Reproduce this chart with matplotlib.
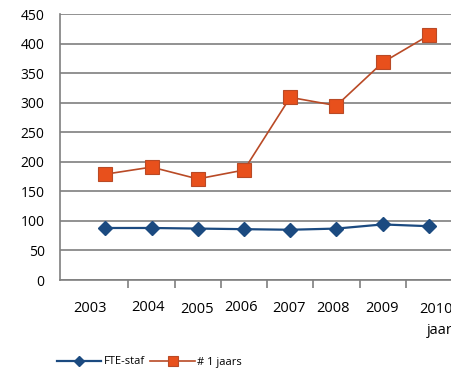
import matplotlib
matplotlib.use("Agg")
import matplotlib.pyplot as plt
import matplotlib.transforms as mtransforms

plt.rcParams['font.family'] = ['Open Sans', 'DejaVu Sans']

# gegevens per jaar
jaren = ["2003", "2004", "2005", "2006", "2007", "2008", "2009", "2010"]
fte_staf = [88, 88, 87, 86, 85, 87, 94, 91]
eerstejaars = [179, 191, 171, 186, 309, 295, 368, 414]

blauw = "#1b4a80"
oranje = "#e8501c"
oranje_rand = "#b94a26"
grijs = "#7f7f7f"

fig = plt.figure(figsize=(4.52, 3.69), dpi=100)
ax = fig.add_axes([60 / 452, 1 - 280 / 369, 392 / 452, 266 / 369])

x = list(range(len(jaren)))
ax.plot(x, fte_staf, color=blauw, linewidth=1.6, marker="D", markersize=7,
        markerfacecolor=blauw, markeredgecolor=blauw, label="FTE-staf", zorder=3)
ax.plot(x, eerstejaars, color=oranje_rand, linewidth=1.2, marker="s", markersize=10,
        markerfacecolor=oranje, markeredgecolor=oranje_rand, markeredgewidth=0.8,
        label="# 1 jaars", zorder=3)

ax.set_xlim(-0.98, 7.5)
ax.set_ylim(0, 450)
ax.set_yticks(range(0, 451, 50))
ax.yaxis.grid(True, color=grijs, linewidth=1.2)
ax.set_axisbelow(True)
ax.tick_params(axis="y", length=0, pad=11, labelsize=10)

# jaartallen onder de as, kleine streepjes tussen de jaren
ax.set_xticks(x)
ax.set_xticklabels(jaren)
ax.set_xticks([i + 0.5 for i in range(7)], minor=True)
ax.tick_params(axis="x", which="major", length=0, pad=15, labelsize=10.5)
ax.tick_params(axis="x", which="minor", length=6, width=1.2, color=grijs)

# labels staan niet precies onder de punten
dx = [-15, -3.5, -1, -3, -1, -3, -0.5, 7]
dy = [0, 0.5, -1.5, 0.5, -0.5, -0.5, -0.5, -1]
for lbl, ox, oy in zip(ax.get_xticklabels(), dx, dy):
    lbl.set_transform(lbl.get_transform() +
                      mtransforms.ScaledTranslation(ox / 100, oy / 100, fig.dpi_scale_trans))

fig.text(453 / 452, 1 - 330 / 369, "jaar", fontsize=10.5, ha="right", va="center")

for s in ["top", "right"]:
    ax.spines[s].set_visible(False)
ax.spines["left"].set_color(grijs)
ax.spines["bottom"].set_color(grijs)
ax.spines["left"].set_linewidth(1.2)
ax.spines["bottom"].set_linewidth(1.2)

fig.legend(loc="center left", bbox_to_anchor=(57 / 452, 1 - 362 / 369), ncol=2,
           frameon=False, fontsize=8, handlelength=4.0, markerscale=0.72,
           columnspacing=0.5, handletextpad=0.2, borderpad=0, borderaxespad=0)

fig.savefig("out.png", dpi=100)
